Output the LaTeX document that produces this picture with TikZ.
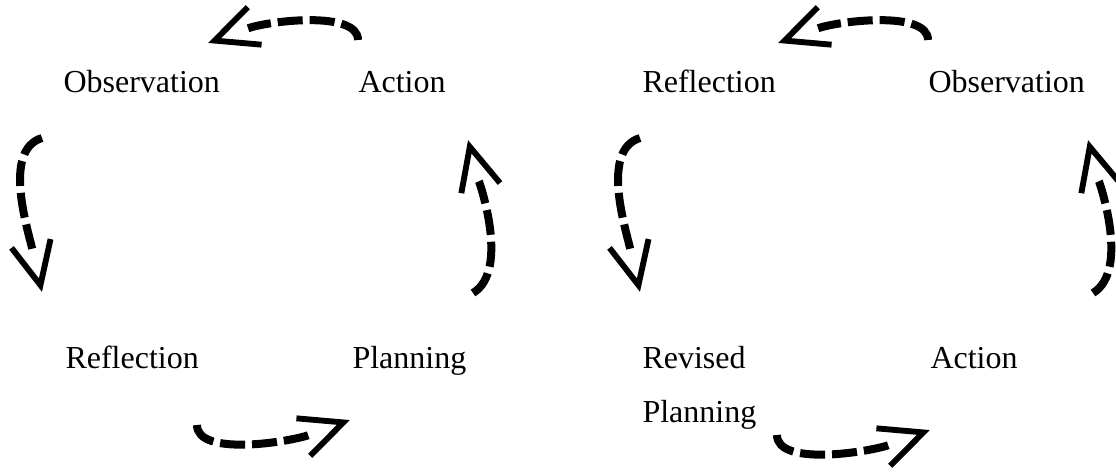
\documentclass[tikz,border=0pt]{standalone}
\usepackage{fontspec}
\setmainfont{Liberation Serif}
\usetikzlibrary{arrows.meta,decorations.markings}
\tikzset{
    stage/.style={anchor=base west, inner sep=0pt, font=\fontsize{12}{14}\selectfont},
    cyc/.style={draw, line width=3pt, dash pattern=on 9.4pt off 2.6pt, shorten >=16pt,
        postaction={decorate, decoration={markings,
            mark=at position 0.999 with {\arrow[solid,line width=2.2pt]{Straight Barb[length=16pt,width=15pt]}}}}},
}

\begin{document}
\begin{tikzpicture}[x=0.375pt, y=-0.375pt]
    \useasboundingbox (0,0) rectangle (1116,472);

    % first cycle
    \node[stage] (lobs) at (63,92) {Observation};
    \node[stage] (lact) at (358,92) {Action};
    \node[stage] (lrefl) at (65,368) {Reflection};
    \node[stage] (lplan) at (352,368) {Planning};

    \coordinate (a1) at (358,40);   \coordinate (a2) at (208,43);
    \coordinate (b1) at (42,138);   \coordinate (b2) at (42,292);
    \coordinate (c1) at (473,293);  \coordinate (c2) at (468,140);
    \coordinate (d1) at (197,425);  \coordinate (d2) at (350,420);

    \draw[cyc] (a1) .. controls +(0,-30) and +(60,-22) .. (a2);
    \draw[cyc] (b1) .. controls +(-40,12) and +(-14,-62) .. (b2);
    \draw[cyc] (c1) .. controls +(38,-23) and +(10,38) .. (c2);
    \draw[cyc] (d1) .. controls +(0,32) and +(-60,22) .. (d2);

    % second cycle
    \node[stage] (rrefl) at (642,92) {Reflection};
    \node[stage] (robs) at (928,92) {Observation};
    \node[stage, align=left] (rrev) at (642,422) {Revised\\[6.25pt]Planning};
    \node[stage] (ract) at (930,368) {Action};

    \coordinate (e1) at (928,40);   \coordinate (e2) at (778,43);
    \coordinate (f1) at (640,138);  \coordinate (f2) at (640,292);
    \coordinate (g1) at (1093,293); \coordinate (g2) at (1088,140);
    \coordinate (h1) at (777,435);  \coordinate (h2) at (930,430);

    \draw[cyc] (e1) .. controls +(0,-30) and +(60,-22) .. (e2);
    \draw[cyc] (f1) .. controls +(-40,12) and +(-14,-62) .. (f2);
    \draw[cyc] (g1) .. controls +(38,-23) and +(10,38) .. (g2);
    \draw[cyc] (h1) .. controls +(0,32) and +(-60,22) .. (h2);
\end{tikzpicture}
\end{document}
